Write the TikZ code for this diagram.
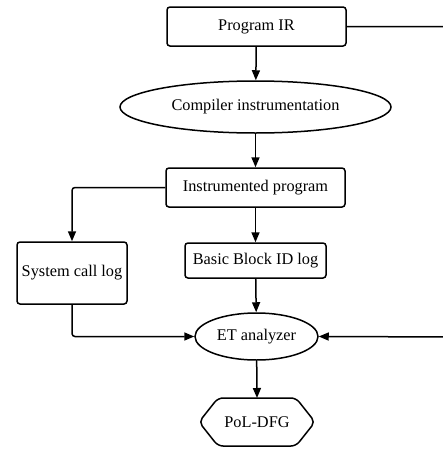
\documentclass[tikz,border=0pt]{standalone}
\usepackage{fontspec}
\setmainfont{Liberation Serif}
\usetikzlibrary{arrows.meta,shapes.geometric}
\begin{document}
\begin{tikzpicture}[x=1pt,y=-1pt,
  every node/.style={font=\fontsize{16.3}{19}\selectfont, inner sep=0pt},
  box/.style={draw, line width=1.5pt, rounded corners=3pt},
  oval/.style={draw, line width=1.5pt, ellipse},
  conn/.style={line width=1.5pt, rounded corners=3pt, -{Triangle[length=10pt,width=8pt]}}]
\useasboundingbox (0,0) rectangle (443,450);
\clip (0,0) rectangle (443,450);
\node[box, minimum width=179pt, minimum height=39pt] (ir) at (256.5,26.5) {Program IR};
\node[oval, minimum width=271pt, minimum height=52pt] (ci) at (255.5,107) {Compiler instrumentation};
\node[box, minimum width=179pt, minimum height=39pt] (ip) at (255.5,187.5) {Instrumented program};
\node[box, minimum width=110pt, minimum height=62pt] (sc) at (72,273) {System call log};
\node[box, minimum width=141pt, minimum height=35pt] (bb) at (255.5,260.5) {Basic Block ID log};
\node[oval, minimum width=123pt, minimum height=47pt] (et) at (256.5,336.5) {ET analyzer};
\coordinate (r1) at (460,26.5);
\coordinate (r2) at (460,337);
\draw[line width=1.5pt, line join=round, rounded corners=5pt]
  (218,398) -- (296,398) -- (315,422) -- (296,446) -- (218,446) -- (199,422) -- cycle;
\node (pd) at (257,422) {PoL-DFG};
\coordinate (pdtop) at (257,398);
\draw[conn] (ir) -- (ci);
\draw[conn] (ci) -- (ip);
\draw[conn] (ip.west) -| (sc.north);
\draw[conn] (ip) -- (bb);
\draw[conn] (bb) -- (et);
\draw[conn] (sc.south) |- (et.west);
\draw[conn] (ir.east) -- (r1) -- (r2) -- (et.east);
\draw[conn] (et) -- (pdtop);
\end{tikzpicture}
\end{document}
